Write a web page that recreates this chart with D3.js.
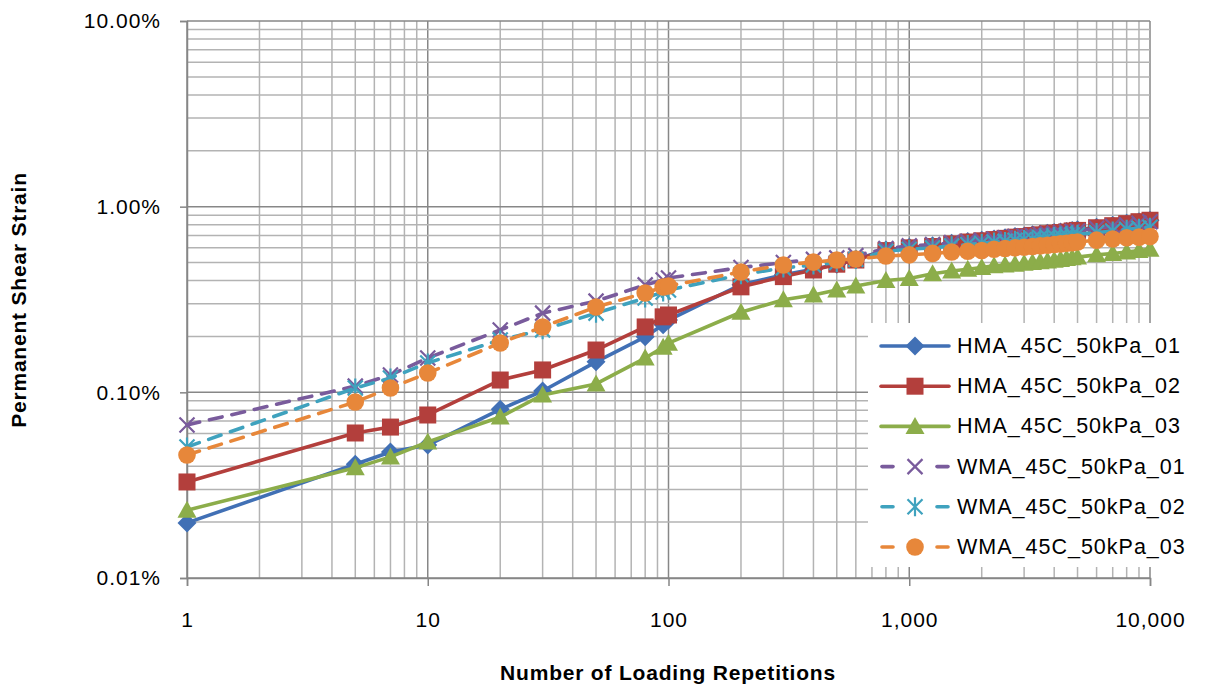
<!DOCTYPE html>
<html><head><meta charset="utf-8">
<script src="https://cdn.jsdelivr.net/npm/d3@7"></script>
<style>
body{margin:0;background:#fff}
svg{display:block}
text{font-family:"Liberation Sans",Arial,sans-serif;fill:#000}
</style></head>
<body><svg id="chart" width="1206" height="688"></svg>
<script>
// ---- data (strain values in %) ----
const repetitions=[1,5,7,10,20,30,50,80,95,100,200,300,400,500,600,800,1000,1250,1500,1750,2000,2250,2500,2750,3000,3250,3500,3750,4000,4250,4500,4750,5000,6000,7000,8000,9000,10000];
const seriesNames=["HMA_45C_50kPa_01","HMA_45C_50kPa_02","HMA_45C_50kPa_03","WMA_45C_50kPa_01","WMA_45C_50kPa_02","WMA_45C_50kPa_03"];
const hma01=[0.0198,0.041,0.0477,0.052,0.081,0.1017,0.146,0.199,0.231,0.245,0.38,0.43,0.46,0.49,0.52,0.585,0.605,0.615,0.635,0.65,0.66,0.67,0.68,0.69,0.695,0.705,0.71,0.72,0.725,0.73,0.735,0.745,0.75,0.775,0.795,0.815,0.83,0.845];
const hma02=[0.0329,0.0604,0.065,0.0755,0.1165,0.132,0.169,0.225,0.255,0.261,0.37,0.42,0.456,0.49,0.516,0.58,0.60,0.61,0.63,0.645,0.655,0.665,0.675,0.685,0.69,0.70,0.705,0.715,0.72,0.725,0.73,0.74,0.745,0.77,0.79,0.81,0.83,0.845];
const hma03=[0.0232,0.0392,0.0449,0.054,0.0736,0.0968,0.111,0.153,0.175,0.184,0.27,0.315,0.334,0.356,0.374,0.40,0.41,0.435,0.45,0.46,0.47,0.48,0.485,0.49,0.495,0.50,0.505,0.51,0.515,0.52,0.525,0.53,0.535,0.55,0.56,0.57,0.58,0.59];
const wma01=[0.0667,0.108,0.124,0.153,0.2167,0.267,0.31,0.379,0.403,0.413,0.47,0.50,0.52,0.53,0.545,0.595,0.615,0.625,0.64,0.65,0.66,0.67,0.68,0.69,0.695,0.70,0.71,0.715,0.72,0.725,0.73,0.735,0.74,0.765,0.785,0.80,0.815,0.83];
const wma02=[0.0508,0.1055,0.1195,0.144,0.1914,0.217,0.267,0.322,0.347,0.356,0.43,0.468,0.485,0.50,0.52,0.575,0.59,0.60,0.615,0.625,0.635,0.645,0.65,0.66,0.665,0.67,0.68,0.685,0.69,0.695,0.70,0.705,0.71,0.725,0.74,0.755,0.765,0.775];
const wma03=[0.046,0.0887,0.1055,0.127,0.1845,0.225,0.288,0.343,0.369,0.374,0.445,0.485,0.503,0.516,0.523,0.542,0.55,0.56,0.57,0.575,0.58,0.59,0.595,0.60,0.605,0.61,0.615,0.62,0.625,0.63,0.635,0.64,0.645,0.66,0.67,0.68,0.685,0.69];
const seriesValues=[hma01,hma02,hma03,wma01,wma02,wma03];
const xTickValues=[1,10,100,1000,10000];
const yTickValues=[0.01,0.1,1,10];
const xTitle="Number of Loading Repetitions";
const yTitle="Permanent Shear Strain";

// ---- styles ----
const colors=["#4170B5","#B33F3C","#8CAD4A","#795B9C","#3FA2BE","#E7873A"];
const markers=["diamond","square","triangle","x","star","circle"];
const dashed=[false,false,false,true,true,true];

const svg=d3.select("#chart");
const L=187,R=1150,T=21,B=578;
const x=d3.scaleLog().domain([1,10000]).range([L,R]);
const y=d3.scaleLog().domain([0.01,10]).range([B,T]);
const isMajor=v=>Math.abs(Math.log10(v)-Math.round(Math.log10(v)))<1e-9;

// gridlines
const g=svg.append("g");
g.selectAll(".vx").data(x.ticks()).join("line")
 .attr("x1",d=>x(d)).attr("x2",d=>x(d)).attr("y1",T).attr("y2",B)
 .attr("stroke",d=>isMajor(d)?"#878787":"#b3b3b3").attr("stroke-width",1.5);
g.selectAll(".hy").data(y.ticks()).join("line")
 .attr("x1",L).attr("x2",R).attr("y1",d=>y(d)).attr("y2",d=>y(d))
 .attr("stroke",d=>isMajor(d)?"#878787":"#b3b3b3").attr("stroke-width",1.5);

// axes
const ax=svg.append("g").attr("transform",`translate(0,${B})`)
 .call(d3.axisBottom(x).tickValues(xTickValues).tickFormat(d3.format(",")).tickSize(8).tickPadding(26));
const ay=svg.append("g").attr("transform",`translate(${L},0)`)
 .call(d3.axisLeft(y).tickValues(yTickValues).tickFormat(d=>d3.format(".2f")(d)+"%").tickSize(7).tickPadding(19));
[ax,ay].forEach(a=>{
  a.selectAll("path,line").attr("stroke","#868686").attr("stroke-width",1.5);
  a.selectAll("text").attr("font-size",21).attr("letter-spacing",1.0).attr("font-family","'Liberation Sans',Arial,sans-serif").attr("fill","#000");
});

// marker drawing
function drawMarker(sel,type,color){
  if(type==="circle") sel.append("circle").attr("r",8.8).attr("fill",color);
  else if(type==="square") sel.append("rect").attr("x",-8.5).attr("y",-8.5).attr("width",17).attr("height",17).attr("fill",color);
  else if(type==="diamond") sel.append("path").attr("d","M0,-9.5L9.5,0L0,9.5L-9.5,0Z").attr("fill",color);
  else if(type==="triangle") sel.append("path").attr("d","M0,-9.5L9.5,7.5L-9.5,7.5Z").attr("fill",color);
  else if(type==="x") sel.append("path").attr("d","M-7.5,-7.5L7.5,7.5M-7.5,7.5L7.5,-7.5").attr("stroke",color).attr("stroke-width",2.2).attr("fill","none");
  else if(type==="star") sel.append("path").attr("d","M-7.5,-7.5L7.5,7.5M-7.5,7.5L7.5,-7.5M0,-9.5L0,9.5").attr("stroke",color).attr("stroke-width",2.2).attr("fill","none");
}

const line=d3.line().x(d=>x(d[0])).y(d=>y(d[1]));
seriesValues.forEach((vals,i)=>{
  const pts=repetitions.map((r,k)=>[r,vals[k]]);
  const sg=svg.append("g");
  sg.append("path").attr("d",line(pts)).attr("fill","none").attr("stroke",colors[i])
    .attr("stroke-width",3.6).attr("stroke-linejoin","round").attr("stroke-linecap","round")
    .attr("stroke-dasharray",dashed[i]?"13,10":null);
  sg.selectAll("g.m").data(pts).join("g").attr("transform",d=>`translate(${x(d[0])},${y(d[1])})`)
    .each(function(){drawMarker(d3.select(this),markers[i],colors[i]);});
});

// legend
const lg=svg.append("g");
lg.append("rect").attr("x",868).attr("y",323).attr("width",338).attr("height",244).attr("fill","#fff");
seriesNames.forEach((name,i)=>{
  const cy=346+i*40.2;
  const e=lg.append("g");
  if(dashed[i]){
    e.append("line").attr("x1",882).attr("x2",893).attr("y1",cy).attr("y2",cy).attr("stroke",colors[i]).attr("stroke-width",3.6).attr("stroke-linecap","round");
    e.append("line").attr("x1",937).attr("x2",948).attr("y1",cy).attr("y2",cy).attr("stroke",colors[i]).attr("stroke-width",3.6).attr("stroke-linecap","round");
  } else {
    e.append("line").attr("x1",881).attr("x2",949).attr("y1",cy).attr("y2",cy).attr("stroke",colors[i]).attr("stroke-width",3.6).attr("stroke-linecap","round");
  }
  const m=e.append("g").attr("transform",`translate(915,${cy})`);
  drawMarker(m,markers[i],colors[i]);
  e.append("text").attr("x",957).attr("y",cy).attr("dominant-baseline","central")
    .attr("font-size",21.5).attr("letter-spacing",1.0).text(name);
});

// titles
svg.append("text").attr("x",668).attr("y",672).attr("text-anchor","middle").attr("dominant-baseline","central")
  .attr("font-size",21).attr("font-weight","bold").attr("letter-spacing",0.8).text(xTitle);
svg.append("text").attr("transform","translate(18,300) rotate(-90)").attr("text-anchor","middle").attr("dominant-baseline","central")
  .attr("font-size",21).attr("font-weight","bold").attr("letter-spacing",0.8).text(yTitle);
</script></body></html>
